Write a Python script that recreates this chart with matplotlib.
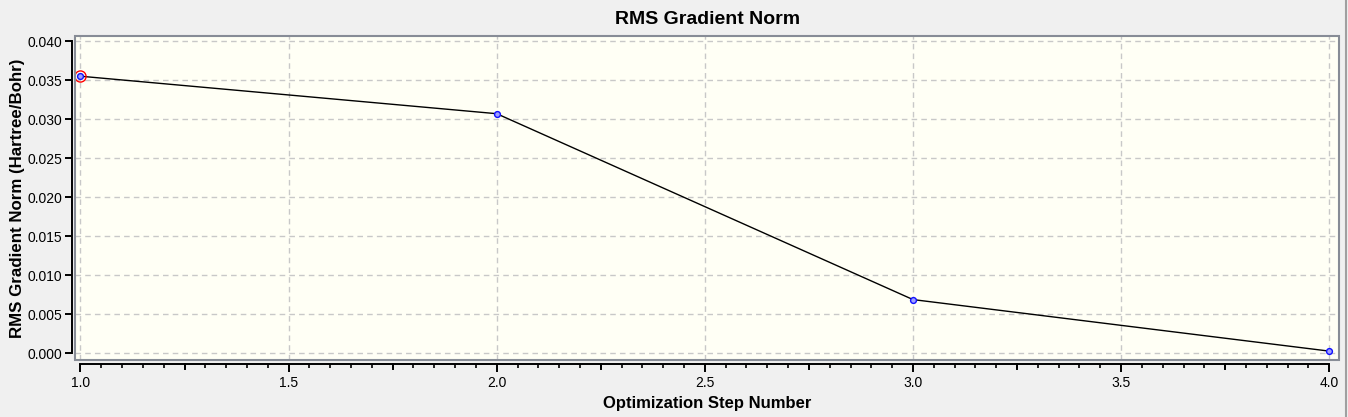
import matplotlib
matplotlib.use('Agg')
import matplotlib.pyplot as plt
from matplotlib.patches import Rectangle
from matplotlib.lines import Line2D
from matplotlib.ticker import MultipleLocator

plt.rcParams['font.family'] = ['Liberation Sans', 'DejaVu Sans']

# optimization steps and RMS gradient norm
steps = [1, 2, 3, 4]
rms_grad = [0.0355, 0.0307, 0.0069, 0.0003]

fig = plt.figure(figsize=(13.48, 4.17), dpi=100, facecolor='#f0f0f0')
ax = fig.add_axes([0.056, 0.1355, 0.9375, 0.778])
ax.set_facecolor('#fffff5')

ax.plot(steps, rms_grad, color='black', lw=1.0, zorder=3)
ax.plot(steps, rms_grad, ls='none', marker='o', ms=4.2, mec='#1010ff',
        mfc='#a0a0ff', mew=1.0, zorder=4)
# selected point
ax.plot(steps[0], rms_grad[0], ls='none', marker='o', ms=8, mfc='none',
        mec='red', mew=1.0, zorder=5)

ax.set_xlim(0.988, 4.024)
ax.set_ylim(-0.0009, 0.04064)

ax.xaxis.set_major_locator(MultipleLocator(0.5))
ax.xaxis.set_minor_locator(MultipleLocator(0.05))
ax.yaxis.set_major_locator(MultipleLocator(0.005))
ax.xaxis.set_major_formatter(plt.FuncFormatter(lambda v, p: f'{v:.1f}'))
ax.yaxis.set_major_formatter(plt.FuncFormatter(lambda v, p: f'{v:.3f}'))

ax.grid(True, which='major', ls=(0, (4, 3)), color='#c8c8c8', lw=1.0)

for s in ['top', 'right']:
    ax.spines[s].set_visible(False)
ax.spines['left'].set_position(('outward', 2.5))
ax.spines['bottom'].set_position(('outward', 2.2))
ax.spines['left'].set_bounds(0, 0.04)
ax.spines['bottom'].set_bounds(1, 4)
ax.spines['left'].set_linewidth(1.4)
ax.spines['bottom'].set_linewidth(1.4)

ax.tick_params(axis='y', direction='out', length=5, width=1.4, labelsize=10, pad=2)
ax.tick_params(axis='x', which='major', direction='out', length=6, width=1.4,
               labelsize=10, pad=3)
ax.tick_params(axis='x', which='minor', direction='out', length=3, width=1.2)

# medium ticks at quarter steps
for xq in [1.25, 1.75, 2.25, 2.75, 3.25, 3.75]:
    ax.plot([xq, xq], [-0.0093, -0.0277], transform=ax.get_xaxis_transform(),
            color='black', lw=1.4, clip_on=False)

ax.add_patch(Rectangle((0, 0), 1, 1, transform=ax.transAxes, fill=False,
                       ec='#878c96', lw=1.5, clip_on=False, zorder=6))

ax.set_title('RMS Gradient Norm', fontsize=14, fontweight='bold', pad=9)
ax.set_xlabel('Optimization Step Number', fontsize=12, fontweight='bold', labelpad=4)
ax.set_ylabel('RMS Gradient Norm (Hartree/Bohr)', fontsize=12.2, fontweight='bold',
              labelpad=2)

# window border on the right
fig.add_artist(Line2D([1345.5 / 1348] * 2, [0, 1], color='#a0a0a0', lw=1.5))

fig.savefig('out.png', dpi=100, facecolor=fig.get_facecolor())
